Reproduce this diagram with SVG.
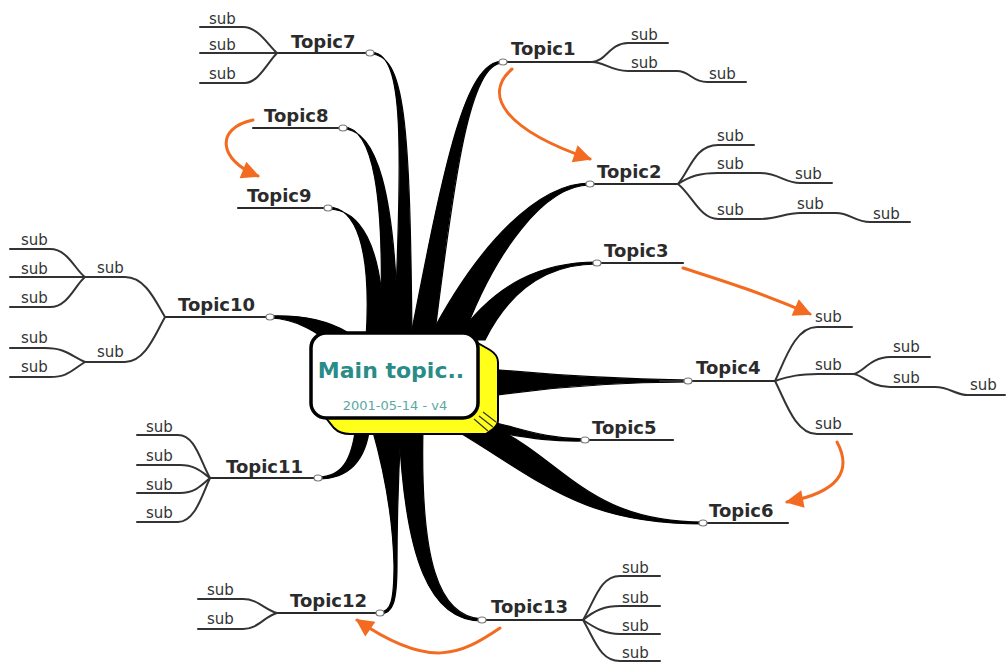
<svg xmlns="http://www.w3.org/2000/svg" width="1008" height="666" viewBox="0 0 1008 666">
<defs>
<style>
.br{fill:#000;stroke:#000;stroke-width:1.2;stroke-linejoin:round}
.ln{fill:none;stroke:#2a2a2a;stroke-width:2.2;stroke-linecap:round}
.sl{fill:none;stroke:#333;stroke-width:2;stroke-linecap:round}
.t{font-family:"DejaVu Sans",sans-serif;font-weight:bold;font-size:18px;fill:#2b2b2b}
.s{font-family:"DejaVu Sans",sans-serif;font-size:15px;fill:#333}
.dot{fill:#fff;stroke:#777;stroke-width:1.2}
.ar{fill:none;stroke:#f26b21;stroke-width:3;stroke-linecap:round;marker-end:url(#ah)}
</style>
<marker id="ah" viewBox="0 0 10 10" refX="9" refY="5" markerWidth="22" markerHeight="18" markerUnits="userSpaceOnUse" orient="auto">
<path d="M0,0 L10,5 L0,10 Z" fill="#f26b21"/>
</marker>
</defs>
<rect width="1008" height="666" fill="#fff"/>

<g id="connectors">
<path class="br" d="M370,52 C402,52 404,120 394,340 L412,340 C410,120 405,54 370,54 Z"/>
<path class="br" d="M343,127 C372,127 386,190 380,340 L398,340 C396,190 376,129 343,129 Z"/>
<path class="br" d="M328,207 C355,207 372,245 366,340 L384,340 C384,240 358,209 328,209 Z"/>
<path class="br" d="M503,61 C465,61 445,160 410,340 L434,340 C455,170 470,63 503,63 Z"/>
<path class="br" d="M590,183 C540,183 480,240 428,340 L462,340 C495,250 545,185 590,185 Z"/>
<path class="br" d="M597,262 C543,262 495,282 455,340 L485,340 C510,290 548,264 597,264 Z"/>
<path class="br" d="M490,369 C560,376 620,379 688,380 L688,382 C620,382 560,386 490,396 Z"/>
<path class="br" d="M488,421 C520,428 545,439 585,439 L585,441 C545,442 520,436 488,431 Z"/>
<path class="br" d="M452,428 C540,480 580,524 703,524 L703,522 C590,522 565,462 496,428 Z"/>
<path class="br" d="M270,316 C300,315 325,319 347,332 L336,347 C318,333 298,319 270,318 Z"/>
<path class="br" d="M318,477 C342,477 352,460 356,425 L370,425 C366,462 348,479 318,479 Z"/>
<path class="br" d="M380,612 C391,612 394,600 394,565 C393,520 384,470 372,428 L401,428 C398,480 397,530 397,565 C397,602 393,614 380,614 Z"/>
<path class="br" d="M399,428 C405,560 430,621 482,621 L482,619 C438,617 420,560 423,428 Z"/>
<path class="ar" d="M512,69 C482,95 505,130 590,159"/>
<path class="ar" d="M253,120 C215,128 218,160 258,176"/>
<path class="ar" d="M683,268 C720,280 760,292 810,314"/>
<path class="ar" d="M837,442 C852,470 840,492 787,502"/>
<path class="ar" d="M500,628 C460,655 430,670 357,620"/>
</g>

<g id="main">
<path d="M462,334 L490,350 Q498,355 498,362 L498,420 Q498,425 493,429 L486,434 L350,434 Q340,434 334,428 L326,418 Z" fill="#ffff1a" stroke="#000" stroke-width="2"/>
<path d="M474,419 L488,431 M479,416 L493,427 M483,412 L496,422" stroke="#333" stroke-width="1.2" fill="none"/>
<rect x="311" y="333" width="167" height="85" rx="15" fill="#fff" stroke="#000" stroke-width="3.5"/>
<text x="391" y="378" text-anchor="middle" font-family="DejaVu Sans, sans-serif" font-weight="bold" font-size="22" fill="#2a8c88">Main topic..</text>
<text x="395" y="410" text-anchor="middle" font-family="DejaVu Sans, sans-serif" font-size="13" fill="#5aa8a4">2001-05-14 - v4</text>
</g>

<g id="topic1">
<path class="ln" d="M503,62 L592,62"/>
<path class="sl" d="M592,62 C605,62 610,43 628,43 L668,43"/>
<path class="sl" d="M592,62 C605,62 610,71 628,71 L677,71 C690,71 692,82 707,82 L746,82"/>
<ellipse class="dot" cx="503" cy="62" rx="4" ry="3"/>
<text class="t" x="511" y="55">Topic1</text>
<text class="s" x="631" y="40">sub</text>
<text class="s" x="631" y="68">sub</text>
<text class="s" x="709" y="79">sub</text>
</g>

<g id="topic2">
<path class="ln" d="M590,184 L678,184"/>
<path class="sl" d="M678,184 C690,170 695,145 718,145 L754,145"/>
<path class="sl" d="M678,184 C690,176 700,173 718,173 L760,173 C778,173 785,183 800,183 L832,183"/>
<path class="sl" d="M678,184 C692,195 700,219 718,219 L760,219 C778,219 785,213 800,213 L836,213 C850,213 855,222 870,222 L910,222"/>
<ellipse class="dot" cx="590" cy="184" rx="4" ry="3"/>
<text class="t" x="597" y="178">Topic2</text>
<text class="s" x="717" y="141">sub</text>
<text class="s" x="717" y="169">sub</text>
<text class="s" x="795" y="179">sub</text>
<text class="s" x="717" y="215">sub</text>
<text class="s" x="797" y="209">sub</text>
<text class="s" x="873" y="219">sub</text>
</g>

<g id="topic3">
<path class="ln" d="M597,263 L683,263"/>
<ellipse class="dot" cx="597" cy="263" rx="4" ry="3"/>
<text class="t" x="604" y="257">Topic3</text>
</g>

<g id="topic4">
<path class="ln" d="M660,381 L775,381"/>
<path class="sl" d="M775,381 C785,360 795,327 817,327 L852,327"/>
<path class="sl" d="M775,381 C790,376 800,374 818,374 L853,374"/>
<path class="sl" d="M853,374 C862,374 870,357 890,357 L930,357"/>
<path class="sl" d="M853,374 C862,374 870,387 890,387 L935,387 C950,387 955,395 968,395 L1005,395"/>
<path class="sl" d="M775,381 C785,400 795,434 817,434 L852,434"/>
<ellipse class="dot" cx="688" cy="381" rx="4" ry="3"/>
<text class="t" x="696" y="374">Topic4</text>
<text class="s" x="815" y="322">sub</text>
<text class="s" x="815" y="370">sub</text>
<text class="s" x="893" y="352">sub</text>
<text class="s" x="893" y="383">sub</text>
<text class="s" x="970" y="390">sub</text>
<text class="s" x="815" y="429">sub</text>
</g>

<g id="topic5">
<path class="ln" d="M585,440 L673,440"/>
<ellipse class="dot" cx="585" cy="440" rx="4" ry="3"/>
<text class="t" x="592" y="434">Topic5</text>
</g>

<g id="topic6">
<path class="ln" d="M703,523 L788,523"/>
<ellipse class="dot" cx="703" cy="523" rx="4" ry="3"/>
<text class="t" x="709" y="517">Topic6</text>
</g>

<g id="topic7">
<path class="ln" d="M277,53 L370,53"/>
<path class="sl" d="M200,27 L243,27 C258,27 268,45 277,53"/>
<path class="sl" d="M200,53 L277,53"/>
<path class="sl" d="M200,83 L245,83 C258,83 268,62 277,53"/>
<ellipse class="dot" cx="370" cy="53" rx="4" ry="3"/>
<text class="t" x="291" y="48">Topic7</text>
<text class="s" x="209" y="24">sub</text>
<text class="s" x="209" y="50">sub</text>
<text class="s" x="209" y="79">sub</text>
</g>

<g id="topic8">
<path class="ln" d="M253,128 L343,128"/>
<ellipse class="dot" cx="343" cy="128" rx="4" ry="3"/>
<text class="t" x="264" y="122">Topic8</text>
</g>

<g id="topic9">
<path class="ln" d="M238,208 L328,208"/>
<ellipse class="dot" cx="328" cy="208" rx="4" ry="3"/>
<text class="t" x="247" y="202">Topic9</text>
</g>

<g id="topic10">
<path class="ln" d="M165,317 L270,317"/>
<path class="sl" d="M165,317 C155,300 145,277 125,277 L85,277"/>
<path class="sl" d="M85,277 C75,270 68,249 50,249 L10,249"/>
<path class="sl" d="M85,277 L10,277"/>
<path class="sl" d="M85,277 C75,285 68,307 50,307 L10,307"/>
<path class="sl" d="M165,317 C155,335 145,362 125,362 L85,362"/>
<path class="sl" d="M85,362 C70,355 65,348 45,348 L10,348"/>
<path class="sl" d="M85,362 C72,370 68,377 50,377 L10,377"/>
<ellipse class="dot" cx="270" cy="317" rx="4" ry="3"/>
<text class="t" x="178" y="311">Topic10</text>
<text class="s" x="97" y="273">sub</text>
<text class="s" x="97" y="357">sub</text>
<text class="s" x="21" y="245">sub</text>
<text class="s" x="21" y="274">sub</text>
<text class="s" x="21" y="303">sub</text>
<text class="s" x="21" y="343">sub</text>
<text class="s" x="21" y="372">sub</text>
</g>

<g id="topic11">
<path class="ln" d="M210,478 L318,478"/>
<path class="sl" d="M137,435 L178,435 C195,435 200,460 210,478"/>
<path class="sl" d="M137,465 L180,465 C195,465 202,472 210,478"/>
<path class="sl" d="M137,493 L180,493 C195,493 202,485 210,478"/>
<path class="sl" d="M137,522 L178,522 C195,522 202,495 210,478"/>
<ellipse class="dot" cx="318" cy="478" rx="4" ry="3"/>
<text class="t" x="226" y="473">Topic11</text>
<text class="s" x="146" y="432">sub</text>
<text class="s" x="146" y="461">sub</text>
<text class="s" x="146" y="490">sub</text>
<text class="s" x="146" y="518">sub</text>
</g>

<g id="topic12">
<path class="ln" d="M277,613 L380,613"/>
<path class="sl" d="M198,599 L243,599 C258,599 265,610 277,613"/>
<path class="sl" d="M198,629 L243,629 C258,629 265,616 277,613"/>
<ellipse class="dot" cx="380" cy="613" rx="4" ry="3"/>
<text class="t" x="290" y="607">Topic12</text>
<text class="s" x="207" y="595">sub</text>
<text class="s" x="207" y="624">sub</text>
</g>

<g id="topic13">
<path class="ln" d="M482,620 L583,620"/>
<path class="sl" d="M583,620 C595,600 600,576 620,576 L660,576"/>
<path class="sl" d="M583,620 C595,610 605,606 620,606 L660,606"/>
<path class="sl" d="M583,620 C595,628 605,634 620,634 L660,634"/>
<path class="sl" d="M583,620 C595,640 600,661 620,661 L660,661"/>
<ellipse class="dot" cx="482" cy="620" rx="4" ry="3"/>
<text class="t" x="491" y="613">Topic13</text>
<text class="s" x="622" y="573">sub</text>
<text class="s" x="622" y="603">sub</text>
<text class="s" x="622" y="631">sub</text>
<text class="s" x="622" y="658">sub</text>
</g>
</svg>
